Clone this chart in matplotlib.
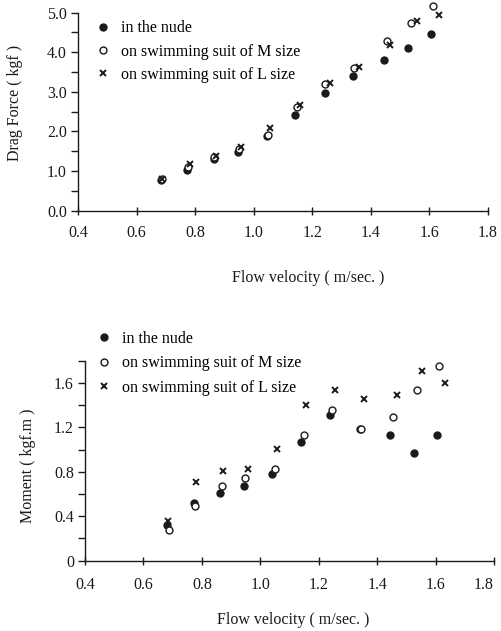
import matplotlib
matplotlib.use("Agg")
import matplotlib.pyplot as plt
from matplotlib.ticker import MultipleLocator

plt.rcParams['font.family'] = ['Liberation Serif', 'DejaVu Serif']

# ---- data ----
drag_v_nude = [0.685, 0.773, 0.863, 0.947, 1.045, 1.142, 1.242, 1.339, 1.445, 1.528, 1.607]
drag_f_nude = [0.77, 1.04, 1.30, 1.47, 1.89, 2.41, 2.97, 3.39, 3.80, 4.10, 4.46]
drag_v_m = [0.687, 0.774, 0.864, 0.949, 1.049, 1.147, 1.245, 1.342, 1.455, 1.536, 1.613]
drag_f_m = [0.80, 1.11, 1.36, 1.56, 1.91, 2.63, 3.20, 3.61, 4.28, 4.74, 5.17]
drag_v_l = [0.688, 0.781, 0.872, 0.958, 1.056, 1.159, 1.262, 1.360, 1.464, 1.557, 1.632]
drag_f_l = [0.80, 1.18, 1.39, 1.62, 2.09, 2.66, 3.22, 3.64, 4.18, 4.80, 4.94]

mom_v_nude = [0.682, 0.773, 0.862, 0.945, 1.041, 1.141, 1.238, 1.342, 1.444, 1.527, 1.605]
mom_m_nude = [0.323, 0.522, 0.607, 0.673, 0.776, 1.072, 1.310, 1.183, 1.132, 0.969, 1.132]
mom_v_m = [0.686, 0.775, 0.869, 0.948, 1.049, 1.148, 1.246, 1.344, 1.455, 1.538, 1.611]
mom_m_m = [0.275, 0.489, 0.670, 0.743, 0.821, 1.129, 1.359, 1.183, 1.292, 1.534, 1.751]
mom_v_l = [0.684, 0.779, 0.872, 0.958, 1.057, 1.158, 1.256, 1.354, 1.467, 1.555, 1.632]
mom_m_l = [0.359, 0.709, 0.803, 0.821, 1.008, 1.401, 1.534, 1.458, 1.488, 1.703, 1.597]

labels = ["in the nude", "on swimming suit of M size", "on swimming suit of L size"]
x_ticks = [0.4, 0.6, 0.8, 1.0, 1.2, 1.4, 1.6, 1.8]
drag_ticks = [0.0, 1.0, 2.0, 3.0, 4.0, 5.0]
mom_ticks = [0, 0.4, 0.8, 1.2, 1.6]

W, H = 501, 631
fig = plt.figure(figsize=(W / 100, H / 100), dpi=100)
ink = '#1a1a1a'
fs = 11.5

def style(ax, ylim, yticks, ylabels, yminor, xpad):
    ax.set_xlim(0.4, 1.8)
    ax.set_ylim(*ylim)
    for s in ['top', 'right']:
        ax.spines[s].set_visible(False)
    for s in ['left', 'bottom']:
        ax.spines[s].set_color(ink)
        ax.spines[s].set_linewidth(1.0)
    ax.set_xticks(x_ticks)
    ax.set_xticklabels([f"{t:.1f}" for t in x_ticks])
    ax.set_yticks(yticks)
    ax.set_yticklabels(ylabels)
    ax.yaxis.set_minor_locator(MultipleLocator(yminor))
    ax.tick_params(axis='x', direction='inout', length=6, width=1, color=ink,
                   labelsize=fs, pad=xpad, labelcolor=ink)
    ax.tick_params(axis='y', which='both', direction='out', length=5, width=1, color=ink,
                   labelsize=fs, pad=3, labelcolor=ink)
    ax.patch.set_alpha(0)

def scatter(ax, v1, y1, v2, y2, v3, y3):
    h1, = ax.plot(v1, y1, linestyle='none', marker='o', ms=5, mfc=ink, mec=ink, clip_on=False)
    h2, = ax.plot(v2, y2, linestyle='none', marker='o', ms=5, mfc='white', mec=ink, mew=1.0, clip_on=False)
    h3, = ax.plot(v3, y3, linestyle='none', marker='x', ms=5, mec=ink, mew=1.4, clip_on=False)
    return [h1, h2, h3]

def legend(ax, hs, left_px, top_px, spacing):
    ax.legend(hs, labels, loc='upper left', bbox_to_anchor=(left_px / W, 1 - top_px / H),
              bbox_transform=fig.transFigure, frameon=False, fontsize=fs,
              handlelength=1.0, handletextpad=0.62, labelspacing=spacing, borderpad=0,
              borderaxespad=0, markerscale=1.0)

# top chart
ax1 = fig.add_axes([78 / W, 1 - 210.7 / H, 410 / W, 198 / H])
style(ax1, (0, 5.0), drag_ticks, [f"{t:.1f}" for t in drag_ticks], 0.5, 7)
hs = scatter(ax1, drag_v_nude, drag_f_nude, drag_v_m, drag_f_m, drag_v_l, drag_f_l)
legend(ax1, hs, 95, 20.5, 0.45)
fig.text(15 / W, 1 - 103 / H, "Drag Force ( kgf )", rotation=90, ha='center', va='center',
         fontsize=fs, color=ink)
fig.text(308 / W, 1 - 278 / H, "Flow velocity ( m/sec. )", ha='center', va='center',
         fontsize=fs, color=ink)

# bottom chart
ax2 = fig.add_axes([85 / W, 1 - 560.7 / H, 409 / W, 200 / H])
style(ax2, (0, 1.8), mom_ticks, ["0", "0.4", "0.8", "1.2", "1.6"], 0.2, 9)
hs = scatter(ax2, mom_v_nude, mom_m_nude, mom_v_m, mom_m_m, mom_v_l, mom_m_l)
legend(ax2, hs, 96, 331, 0.52)
ax2.get_xticklabels()[-1].set_ha('right')
fig.text(28 / W, 1 - 466 / H, "Moment ( kgf.m )", rotation=90, ha='center', va='center',
         fontsize=fs, color=ink)
fig.text(293 / W, 1 - 620 / H, "Flow velocity ( m/sec. )", ha='center', va='center',
         fontsize=fs, color=ink)

fig.savefig("out.png", dpi=100)
